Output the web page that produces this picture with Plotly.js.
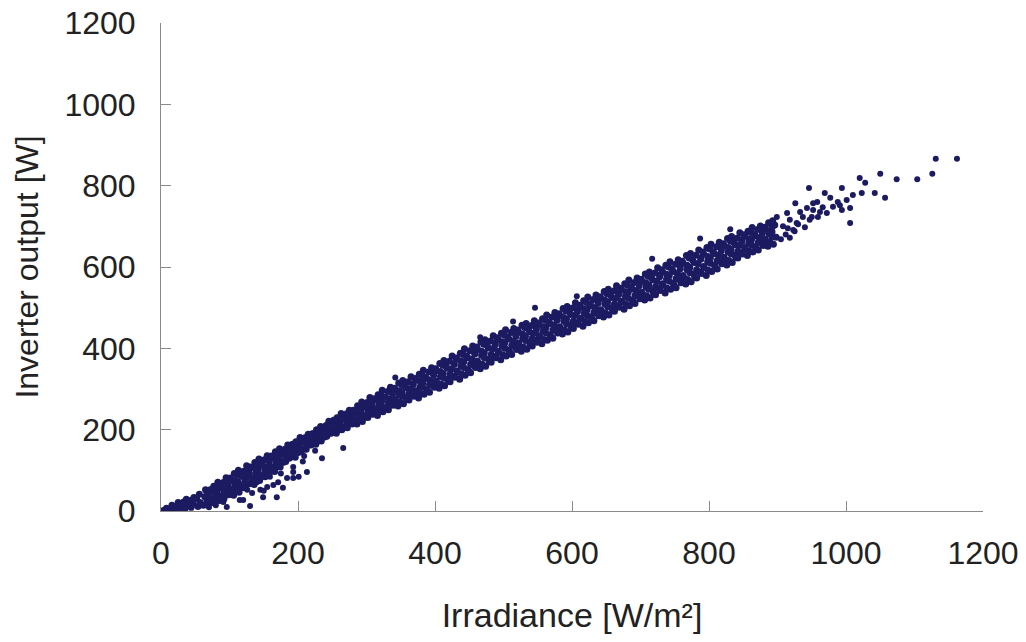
<!DOCTYPE html>
<html>
<head>
<meta charset="utf-8">
<script src="https://cdn.plot.ly/plotly-3.0.1.min.js"></script>
<style>html,body{margin:0;padding:0;background:#fff;}#chart{width:1026px;height:642px;}</style>
</head>
<body>
<div id="chart"></div>
<script>
// Dense band of measurements: irradiance [W/m²] and inverter output [W]
const bandIrr = [
2,5, 9,12,8, 17,20,16, 26,29,25, 35,38,33,37, 44,47,43,48, 54,57,52,56,
62,67,64,68,65, 76,73,78,72,77, 84,88,82,86,83, 92,97,94,98,95,
106,103,108,102,107, 114,118,112,116,113, 122,127,124,128,125, 136,133,138,132,137,
144,148,142,146,143, 152,157,154,158,155, 166,163,168,162,167, 174,178,172,176,173,
182,187,184,188,185, 196,193,198,192,197, 204,208,202,206,203, 212,217,214,218,215,
226,223,228,222,227, 234,238,232,236,233, 242,247,244,248,245, 256,253,258,252,257,
264,268,262,266,263, 272,277,274,278,275, 286,283,288,282,287, 294,298,292,296,293,
302,307,304,308,305, 316,313,318,312,317, 324,328,322,326,323, 332,337,334,338,335,
346,343,348,342,347, 354,358,352,356,353, 362,367,364,368,365, 376,373,378,372,377,
384,388,382,386,383, 392,397,394,398,395, 406,403,408,402,407, 414,418,412,416,413,
422,427,424,428,425, 436,433,438,432,437, 444,448,442,446,443, 452,457,454,458,455,
466,463,468,462,467, 474,478,472,476,473, 482,487,484,488,485, 496,493,498,492,497,
504,508,502,506,503, 512,517,514,518,515, 526,523,528,522,527, 534,538,532,536,533,
542,547,544,548,545, 556,553,558,552,557, 564,568,562,566,563, 572,577,574,578,575,
586,583,588,582,587, 594,598,592,596,593, 602,607,604,608,605, 616,613,618,612,617,
624,628,622,626,623, 632,637,634,638,635, 646,643,648,642,647, 654,658,652,656,653,
662,667,664,668,665, 676,673,678,672,677, 684,688,682,686,683, 692,697,694,698,695,
706,703,708,702,707, 714,718,712,716,713, 722,727,724,728,725, 736,733,738,732,737,
744,748,742,746,743, 752,757,754,758,755, 766,763,768,762,767, 774,778,772,776,773,
782,787,784,788,785, 796,793,798,792,797, 804,808,802,806,803, 812,817,814,818,815,
826,823,828,822,827, 834,838,832,836,833, 842,847,844,848,845, 856,853,858,852,857,
864,868,862,866,863, 872,877,874,878,875, 886,883,888,882,887, 894,898,892,896,893
];
const bandOut = [
0,2, 1,4,7, 3,9,14, 5,13,21, 6,15,22,29, 9,17,26,33, 11,21,31,41,
14,26,35,46,52, 20,29,43,52,61, 25,36,47,61,71, 30,45,55,69,82,
39,51,64,76,92, 46,61,72,88,100, 57,67,83,95,111, 65,80,92,107,119,
75,87,101,114,128, 84,98,109,125,136, 97,107,121,132,146, 108,121,130,144,153,
122,130,143,151,162, 132,144,152,164,170, 145,152,164,171,181, 152,163,171,182,189,
164,171,183,190,200, 172,184,191,202,208, 184,191,204,211,221, 191,202,210,223,229,
200,207,220,228,240, 205,217,227,240,248, 214,223,237,246,259, 220,233,243,258,268,
230,239,253,264,279, 235,248,259,274,286, 244,254,269,280,297, 249,263,275,291,304,
258,269,285,297,315, 264,279,291,307,321, 273,284,300,312,330, 278,293,305,322,336,
287,298,315,328,346, 292,308,321,338,352, 302,314,331,345,363, 308,324,338,356,370,
318,331,349,363,381, 324,341,356,374,388, 334,348,367,381,399, 340,358,373,391,406,
350,364,383,398,416, 356,374,389,407,421, 366,380,399,413,431, 372,390,405,423,437,
381,395,414,428,446, 385,403,417,435,449, 393,406,424,439,457, 398,415,429,448,461,
406,419,437,451,468, 411,428,442,460,473, 420,433,451,465,482, 425,443,457,475,488,
435,449,467,481,498, 440,458,472,490,503, 449,463,481,495,512, 454,472,486,504,517,
463,477,495,509,526, 468,486,500,518,531, 477,491,509,523,540, 482,500,514,532,545,
491,505,523,537,554, 496,514,528,546,559, 505,519,537,551,568, 510,528,542,560,573,
519,533,551,565,583, 524,542,556,574,588, 532,547,565,580,598, 536,555,570,589,604,
545,560,579,594,613, 549,569,584,603,618, 558,574,593,609,628, 564,583,599,618,633,
573,588,608,623,642, 579,598,613,633,648, 589,604,622,637,656, 595,613,628,646,661,
605,619,637,652,670, 611,629,643,661,675, 622,635,653,667,684, 628,645,658,676,688,
637,650,667,680,697, 642,659,672,689,701, 651,664,681,694,709, 656,673,686,703,714
];
// More band readings lying between the ones above
const fillIrr = [
69,72,68,71, 79,82,78,81, 89,92,88,91, 99,102,98,101, 109,112,108,111, 119,122,118,121,
129,132,128,131, 139,142,138,141, 149,152,148,151, 159,162,158,161, 169,172,168,171,
179,182,178,181, 189,192,188,191, 199,202,198,201, 209,212,208,211, 219,222,218,221,
229,232,228,231, 239,242,238,241, 249,252,248,251, 259,262,258,261, 269,272,268,271,
279,282,278,281, 289,292,288,291, 299,302,298,301, 309,312,308,311, 319,322,318,321,
329,332,328,331, 339,342,338,341, 349,352,348,351, 359,362,358,361, 369,372,368,371,
379,382,378,381, 389,392,388,391, 399,402,398,401, 409,412,408,411, 419,422,418,421,
429,432,428,431, 439,442,438,441, 449,452,448,451, 459,462,458,461, 469,472,468,471,
479,482,478,481, 489,492,488,491, 499,502,498,501, 509,512,508,511, 519,522,518,521,
529,532,528,531, 539,542,538,541, 549,552,548,551, 559,562,558,561, 569,572,568,571,
579,582,578,581, 589,592,588,591, 599,602,598,601, 609,612,608,611, 619,622,618,621,
629,632,628,631, 639,642,638,641, 649,652,648,651, 659,662,658,661, 669,672,668,671,
679,682,678,681, 689,692,688,691, 699,702,698,701, 709,712,708,711, 719,722,718,721,
729,732,728,731, 739,742,738,741, 749,752,748,751, 759,762,758,761, 769,772,768,771,
779,782,778,781, 789,792,788,791, 799,802,798,801, 809,812,808,811, 819,822,818,821,
829,832,828,831, 839,842,838,841, 849,852,848,851, 859,862,858,861, 869,872,868,871,
879,882,878,881, 889,892,888,891
];
const fillOut = [
22,31,41,51, 27,38,49,61, 33,45,57,70, 40,54,67,81, 49,62,75,90, 58,71,85,98,
67,81,94,108, 77,90,103,117, 86,99,112,126, 96,109,122,135, 108,120,132,144,
120,131,141,152, 132,141,151,161, 143,152,161,171, 153,162,171,181, 162,171,180,190,
172,181,190,200, 182,191,200,210, 192,201,211,220, 200,209,219,229, 207,218,228,239,
214,225,236,248, 223,234,246,257, 231,243,255,267, 238,251,263,276, 245,258,271,285,
253,266,280,294, 260,274,288,302, 268,282,296,311, 275,289,303,318, 282,296,311,326,
289,304,319,334, 296,311,326,342, 304,319,334,350, 312,328,343,359, 320,336,351,368,
329,344,360,376, 337,353,369,385, 345,361,377,394, 353,369,386,403, 361,377,393,410,
369,385,401,418, 377,393,409,426, 384,400,416,433, 391,407,423,439, 397,413,429,445,
403,419,435,451, 409,425,440,456, 415,431,446,462, 422,438,453,469, 430,445,461,477,
438,453,469,485, 445,460,476,492, 452,467,483,499, 459,474,490,506, 466,481,497,513,
473,488,504,520, 480,495,511,527, 487,502,518,534, 494,509,525,541, 501,516,532,548,
508,523,539,555, 515,530,546,562, 522,538,554,570, 529,545,561,577, 536,552,568,585,
542,559,576,593, 548,565,582,600, 555,572,589,607, 561,579,596,614, 569,586,604,622,
576,593,611,629, 584,601,619,637, 592,609,626,644, 600,616,633,650, 608,624,640,657,
616,632,648,664, 624,639,655,671, 632,648,663,679, 639,654,669,685, 646,661,676,692,
653,668,683,698, 660,674,689,704
];
// Stray readings just above the band edge
const edgeIrr = [342,466,514,546,607,717,787,831];
const edgeOut = [328,427,466,500,528,620,670,693];
// Low-irradiance points lying below the band
const lowIrr = [266,235,209,213,193,193,201,171,169,149,130,159,155,140,126,115,86,96,111,145,120,105,91,133,164,178,184,193,207,225,175,150,80,70];
const lowOut = [155,130,135,96,108,81,84,71,34,34,12,84,59,71,52,27,32,10,59,52,27,44,22,44,64,57,81,96,122,148,92,50,14,9];
// Sparse high-irradiance points
const topIrr = [926,946,969,994,958,966,977,952,972,991,1001,1006,1020,1028,1023,1042,1057,1050,1074,1104,1126,1131,1162,1010,943,937,950,962,933,918,928,914,923,899,893,940,952,981,994,959,947,988,1006,905,912,918,925,908,915,930];
const topOut = [757,794,782,794,760,747,770,740,733,752,765,708,819,807,782,782,770,829,816,816,829,866,866,777,745,723,723,735,735,716,708,733,691,723,698,698,757,748,740,723,716,760,745,668,680,672,688,700,695,705];

const xTicks = [0,200,400,600,800,1000,1200];
const yTicks = [0,200,400,600,800,1000,1200];
const xTitle = 'Irradiance [W/m²]';
const yTitle = 'Inverter output [W]';

const dotColor = '#1c1b62';
const dense = {color:dotColor, size:7, symbol:'circle', line:{width:0}};
const single = {color:dotColor, size:6, symbol:'circle', line:{width:0}};
const traces = [
  {x:bandIrr, y:bandOut, type:'scatter', mode:'markers', marker:dense, hoverinfo:'skip'},
  {x:fillIrr, y:fillOut, type:'scatter', mode:'markers', marker:dense, hoverinfo:'skip'},
  {x:edgeIrr, y:edgeOut, type:'scatter', mode:'markers', marker:single, hoverinfo:'skip'},
  {x:lowIrr, y:lowOut, type:'scatter', mode:'markers', marker:single, hoverinfo:'skip'},
  {x:topIrr, y:topOut, type:'scatter', mode:'markers', marker:single, hoverinfo:'skip'}
];
const fam = '"Liberation Sans", Arial, sans-serif';
const layout = {
  width:1026, height:642,
  margin:{l:161, r:43, t:23, b:131},
  paper_bgcolor:'#fff', plot_bgcolor:'#fff',
  showlegend:false,
  font:{family:fam, color:'#222'},
  xaxis:{
    range:[0,1200], tickvals:xTicks, ticktext:xTicks.map(String),
    ticks:'inside', ticklen:10, tickcolor:'#8a8a8a', tickwidth:1,
    showline:true, linecolor:'#8a8a8a', linewidth:1,
    showgrid:false, zeroline:false, automargin:false,
    tickfont:{size:32, family:fam, color:'#222'},
    ticklabelstandoff:14,
    title:{text:xTitle, font:{size:34, family:fam, color:'#222'}, standoff:32}
  },
  yaxis:{
    range:[0,1200], tickvals:yTicks, ticktext:yTicks.map(String),
    ticks:'inside', ticklen:10, tickcolor:'#8a8a8a', tickwidth:1,
    showline:true, linecolor:'#8a8a8a', linewidth:1,
    showgrid:false, zeroline:false, automargin:false,
    tickfont:{size:32, family:fam, color:'#222'},
    ticklabelstandoff:18,
    title:{text:yTitle, font:{size:32, family:fam, color:'#222'}, standoff:16}
  }
};
Plotly.newPlot('chart', traces, layout, {staticPlot:true, displayModeBar:false});
</script>
</body>
</html>
